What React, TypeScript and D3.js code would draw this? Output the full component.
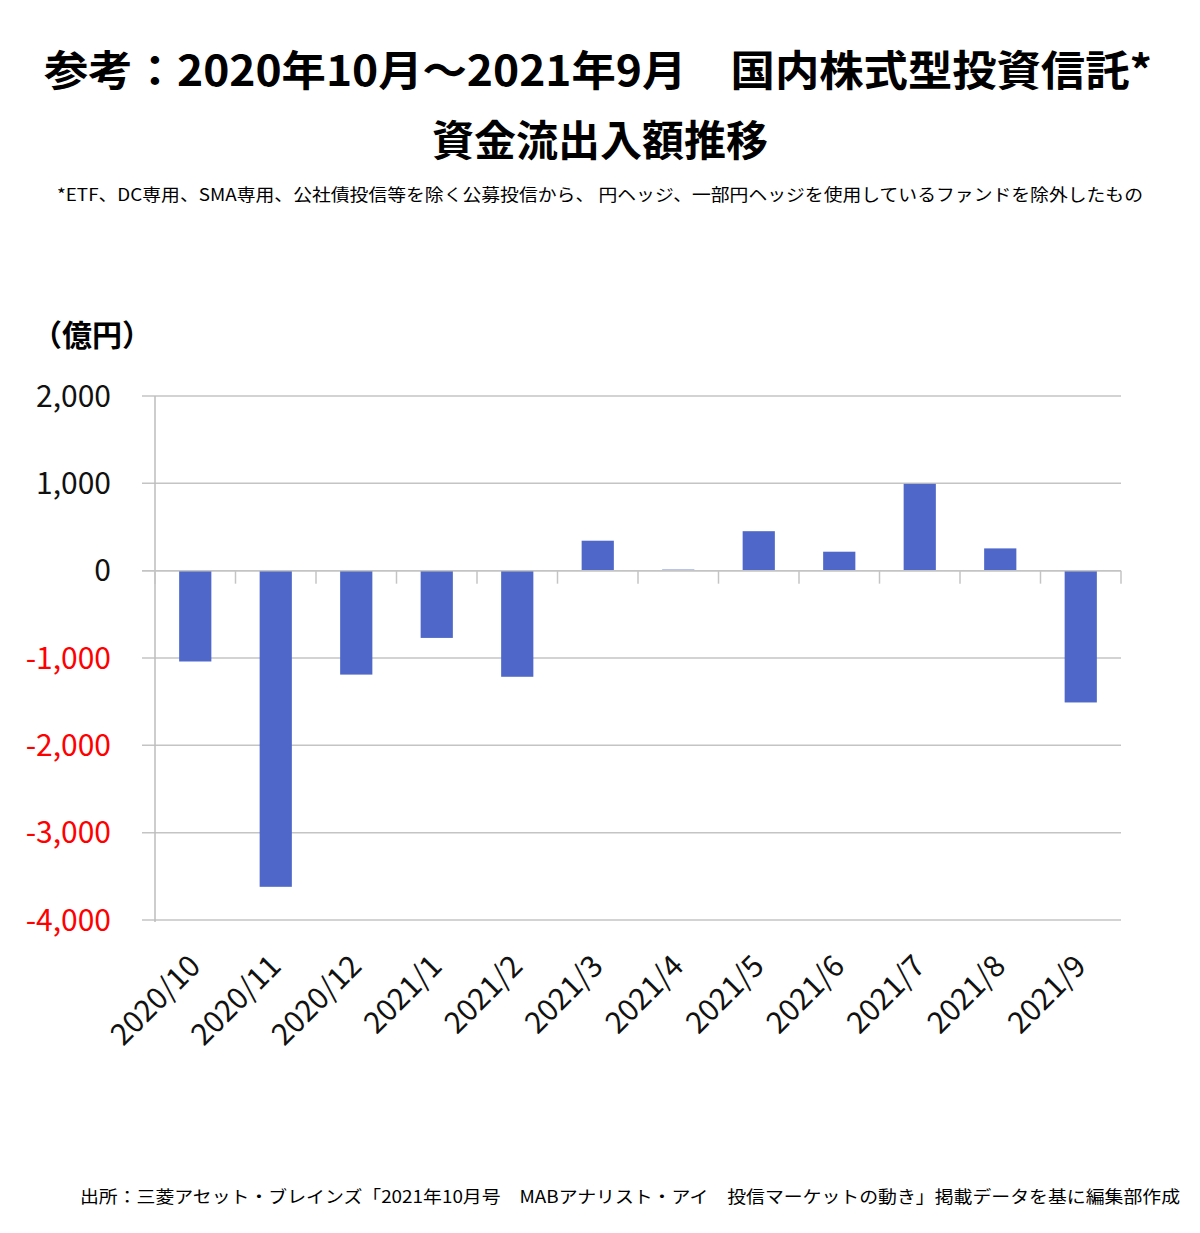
import React, { useRef, useEffect } from "react";
import * as d3 from "d3";

// 国内株式型投資信託 資金流出入額（億円）
const months = [
  "2020/10", "2020/11", "2020/12", "2021/1", "2021/2", "2021/3",
  "2021/4", "2021/5", "2021/6", "2021/7", "2021/8", "2021/9",
];
const flows = [-1040, -3620, -1190, -770, -1215, 343, 12, 452, 217, 994, 255, -1509];
const yTicks = [2000, 1000, 0, -1000, -2000, -3000, -4000];

const titleLine1 = "参考：2020年10月～2021年9月　国内株式型投資信託*";
const titleLine2 = "資金流出入額推移";
const note = "*ETF、DC専用、SMA専用、公社債投信等を除く公募投信から、 円ヘッジ、一部円ヘッジを使用しているファンドを除外したもの";
const source = "出所：三菱アセット・ブレインズ「2021年10月号　MABアナリスト・アイ　投信マーケットの動き」掲載データを基に編集部作成";

const FONT = "'Noto Sans CJK JP', 'Noto Sans', sans-serif";

export default function App() {
  const ref = useRef<SVGSVGElement | null>(null);

  useEffect(() => {
    document.body.style.margin = "0";
    if (!ref.current) return;
    const svg = d3.select(ref.current);
    svg.selectAll("*").remove();

    const width = 1200;
    const height = 1233;
    const left = 155;
    const right = 1121;

    svg.append("rect").attr("width", width).attr("height", height).attr("fill", "#fff");

    // Titles
    svg.append("text")
      .attr("x", 598).attr("y", 86)
      .attr("text-anchor", "middle")
      .attr("font-family", FONT).attr("font-weight", 700).attr("font-size", 42)
      .attr("textLength", 1108).attr("lengthAdjust", "spacingAndGlyphs")
      .text(titleLine1);
    svg.append("text")
      .attr("x", 600).attr("y", 156)
      .attr("text-anchor", "middle")
      .attr("font-family", FONT).attr("font-weight", 700).attr("font-size", 42)
      .text(titleLine2);
    svg.append("text")
      .attr("x", 600).attr("y", 201)
      .attr("text-anchor", "middle")
      .attr("font-family", FONT).attr("font-size", 17)
      .attr("textLength", 1086).attr("lengthAdjust", "spacingAndGlyphs")
      .text(note);

    // Unit label
    svg.append("text")
      .attr("x", 32).attr("y", 346)
      .attr("font-family", FONT).attr("font-weight", 700).attr("font-size", 30)
      .text("（億円）");

    const x = d3.scaleBand().domain(months).range([left, right]).paddingInner(0.6).paddingOuter(0.3);
    const xb = d3.scaleBand().domain(months).range([left, right]);
    const y = d3.scaleLinear().domain([-4000, 2000]).range([920, 396]);

    const g = svg.append("g");

    // Gridlines + outward ticks
    g.selectAll("line.grid")
      .data(yTicks)
      .enter()
      .append("line")
      .attr("class", "grid")
      .attr("x1", left - 13).attr("x2", right)
      .attr("y1", (d) => y(d)).attr("y2", (d) => y(d))
      .attr("stroke", "#c4c4c4").attr("stroke-width", 1.5);

    // Vertical axis line
    g.append("line")
      .attr("x1", left).attr("x2", left)
      .attr("y1", y(2000)).attr("y2", y(-4000) + 2)
      .attr("stroke", "#bdbdbd").attr("stroke-width", 1.5);

    // Y tick labels (hyphen minus like the original)
    const fmt = d3.format(",");
    g.selectAll("text.ytick")
      .data(yTicks)
      .enter()
      .append("text")
      .attr("class", "ytick")
      .attr("x", 111).attr("y", (d) => y(d))
      .attr("dy", "0.36em")
      .attr("text-anchor", "end")
      .attr("font-family", FONT).attr("font-size", 30)
      .attr("fill", (d) => (d < 0 ? "#ff0000" : "#111"))
      .text((d) => fmt(d).replace("\u2212", "-"));

    // Bars
    g.selectAll("rect.bar")
      .data(flows)
      .enter()
      .append("rect")
      .attr("class", "bar")
      .attr("x", (_d, i) => x(months[i]) as number)
      .attr("width", x.bandwidth())
      .attr("y", (d) => y(Math.max(0, d)))
      .attr("height", (d) => Math.abs(y(d) - y(0)))
      .attr("fill", "#4e67c8");

    // Zero axis line with category ticks below
    g.append("line")
      .attr("x1", left - 13).attr("x2", right)
      .attr("y1", y(0)).attr("y2", y(0))
      .attr("stroke", "#c4c4c4").attr("stroke-width", 1.5);
    const tickXs = months.map((m) => xb(m) as number).concat([right]);
    g.selectAll("line.xtick")
      .data(tickXs)
      .enter()
      .append("line")
      .attr("class", "xtick")
      .attr("x1", (d) => d).attr("x2", (d) => d)
      .attr("y1", y(0)).attr("y2", y(0) + 13)
      .attr("stroke", "#c4c4c4").attr("stroke-width", 1.5);

    // X labels, rotated
    g.selectAll("text.xlab")
      .data(months)
      .enter()
      .append("text")
      .attr("class", "xlab")
      .attr("transform", (d) => `translate(${(xb(d) as number) + xb.bandwidth() / 2 + 7},${968}) rotate(-45)`)
      .attr("text-anchor", "end")
      .attr("font-family", FONT).attr("font-size", 30)
      .attr("fill", "#111")
      .text((d) => d);

    // Source
    svg.append("text")
      .attr("x", 1180).attr("y", 1203)
      .attr("text-anchor", "end")
      .attr("font-family", FONT).attr("font-size", 17)
      .attr("textLength", 1100).attr("lengthAdjust", "spacingAndGlyphs")
      .text(source);
  }, []);

  return <svg ref={ref} width={1200} height={1233} style={{ display: "block" }} />;
}
